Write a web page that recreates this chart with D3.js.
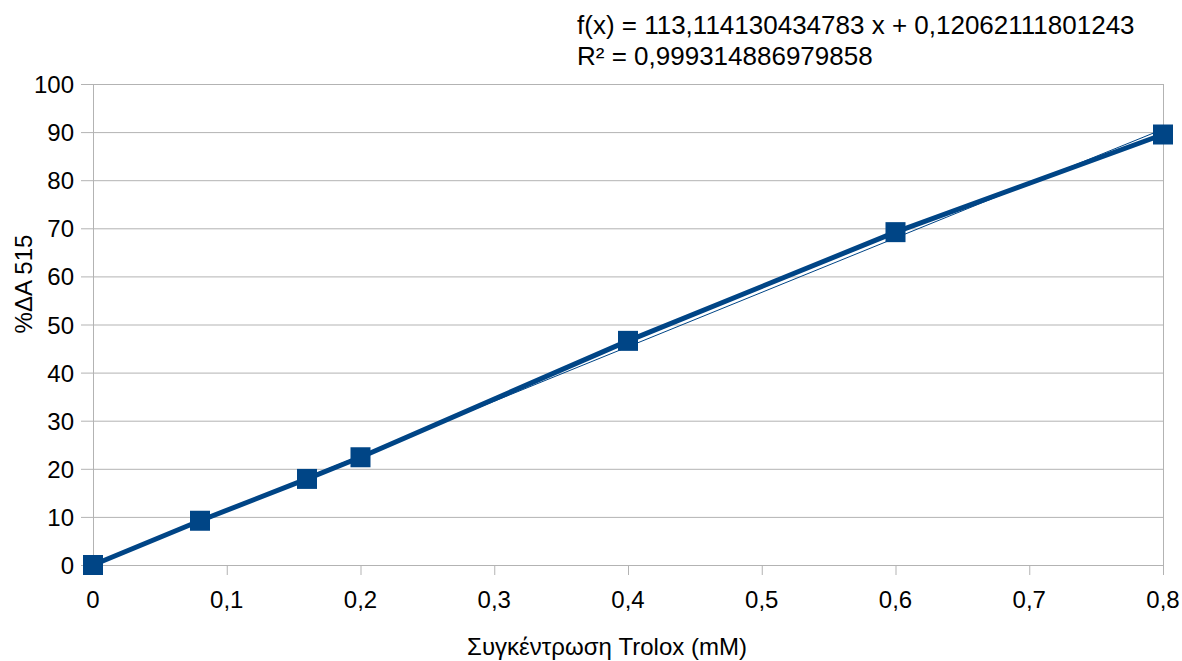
<!DOCTYPE html>
<html lang="el">
    <head>
        <meta charset="UTF-8" />
        <title>Trolox</title>
        <style>
            body { margin: 0; background: #fff; }
            text { font-family: "Liberation Sans", Arial, sans-serif; }
        </style>
    </head>
    <body>
        <div id="main"></div>
        <script src="https://cdn.jsdelivr.net/npm/d3@7"></script>
        <script>
            const concentrations = [0, 0.08, 0.16, 0.2, 0.4, 0.6, 0.8]
            const deltaA = [0, 9.2, 17.9, 22.4, 46.6, 69.2, 89.5]
            const xTicks = [0, 0.1, 0.2, 0.3, 0.4, 0.5, 0.6, 0.7, 0.8]
            const yTicks = [0, 10, 20, 30, 40, 50, 60, 70, 80, 90, 100]
            const slope = 113.114130434783
            const intercept = 0.12062111801243
            const equationLines = ["f(x) = 113,114130434783 x + 0,12062111801243", "R² = 0,999314886979858"]

            const svgWidth = 1182
            const svgHeight = 661
            const color = "#004586"
            const gridColor = "#b3b3b3"
            const fmt = (d) => String(d).replace(".", ",")

            const x = d3.scaleLinear().domain([0, 0.8]).range([93, 1163])
            const y = d3.scaleLinear().domain([0, 100]).range([565, 84])

            const svg = d3.select("#main").append("svg")
                .attr("width", svgWidth)
                .attr("height", svgHeight)

            // horizontal grid
            svg.append("g")
                .selectAll("line")
                .data(yTicks)
                .enter()
                .append("line")
                .attr("x1", x(0) - 12)
                .attr("x2", x(0.8))
                .attr("y1", (d) => y(d) + 0.5)
                .attr("y2", (d) => y(d) + 0.5)
                .attr("stroke", gridColor)
                .attr("stroke-width", 1)

            // left + right frame lines
            svg.append("g")
                .selectAll("line")
                .data([0, 0.8])
                .enter()
                .append("line")
                .attr("x1", (d) => x(d) + 0.5)
                .attr("x2", (d) => x(d) + 0.5)
                .attr("y1", y(100))
                .attr("y2", y(0) + 10)
                .attr("stroke", gridColor)

            // x ticks
            svg.append("g")
                .selectAll("line")
                .data(xTicks)
                .enter()
                .append("line")
                .attr("x1", (d) => x(d) + 0.5)
                .attr("x2", (d) => x(d) + 0.5)
                .attr("y1", y(0))
                .attr("y2", y(0) + 10)
                .attr("stroke", gridColor)

            svg.append("g")
                .selectAll("text")
                .data(yTicks)
                .enter()
                .append("text")
                .attr("x", 74)
                .attr("y", (d) => y(d) + 9)
                .attr("text-anchor", "end")
                .attr("font-size", 24)
                .text((d) => d)

            svg.append("g")
                .selectAll("text")
                .data(xTicks)
                .enter()
                .append("text")
                .attr("x", (d) => x(d))
                .attr("y", 608)
                .attr("text-anchor", "middle")
                .attr("font-size", 24)
                .text(fmt)

            const points = concentrations.map((c, i) => [c, deltaA[i]])

            svg.append("path")
                .datum(points)
                .attr("d", d3.line().x((d) => x(d[0])).y((d) => y(d[1])))
                .attr("fill", "none")
                .attr("stroke", color)
                .attr("stroke-width", 5)
                .attr("stroke-linejoin", "round")

            // trend line
            svg.append("line")
                .attr("x1", x(0))
                .attr("y1", y(intercept))
                .attr("x2", x(0.8))
                .attr("y2", y(slope * 0.8 + intercept))
                .attr("stroke", color)
                .attr("stroke-width", 1)

            const m = 20
            svg.append("g")
                .selectAll("rect")
                .data(points)
                .enter()
                .append("rect")
                .attr("x", (d) => x(d[0]) - m / 2)
                .attr("y", (d) => y(d[1]) - m / 2)
                .attr("width", m)
                .attr("height", m)
                .attr("fill", color)

            svg.append("g")
                .selectAll("text")
                .data(equationLines)
                .enter()
                .append("text")
                .attr("x", 577)
                .attr("y", (d, i) => 34 + i * 31)
                .attr("font-size", 26)
                .text((d) => d)

            svg.append("text")
                .attr("x", 607)
                .attr("y", 655)
                .attr("text-anchor", "middle")
                .attr("font-size", 24)
                .text("Συγκέντρωση Trolox (mM)")

            svg.append("text")
                .attr("transform", `translate(32, 284) rotate(-90)`)
                .attr("text-anchor", "middle")
                .attr("font-size", 24)
                .text("%ΔA 515")
        </script>
    </body>
</html>
